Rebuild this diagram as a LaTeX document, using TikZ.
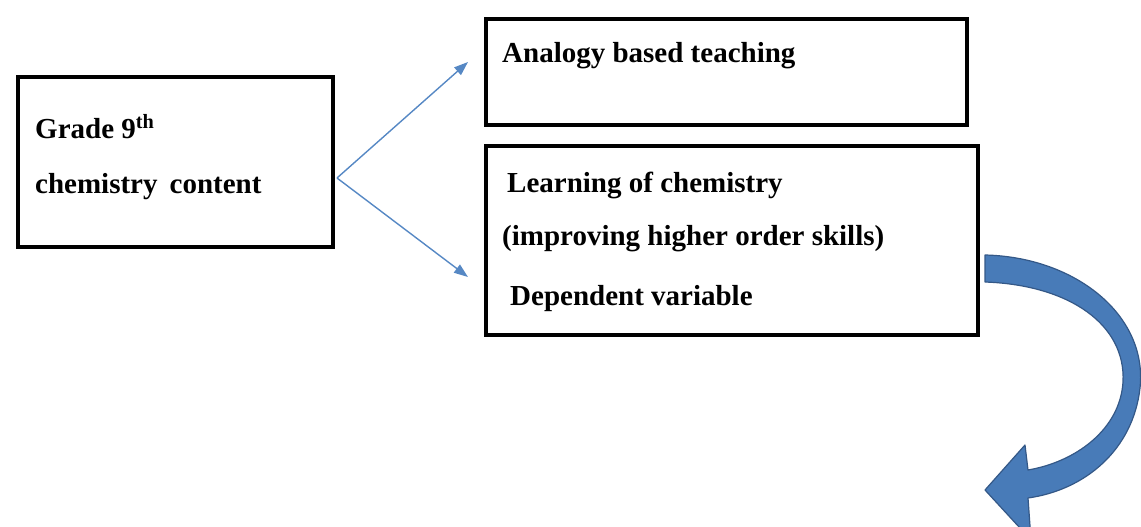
\documentclass[tikz,border=0pt]{standalone}
\usepackage{fontspec}
\setmainfont{Liberation Serif}
\usetikzlibrary{arrows.meta}
\definecolor{thinblue}{RGB}{86,136,196}
\definecolor{bigblue}{RGB}{72,123,184}
\definecolor{bigblueedge}{RGB}{52,88,135}
\tikzset{
  box/.style={draw=black, line width=3.6pt, rectangle, inner sep=0pt, anchor=north west},
  txt/.style={anchor=base west, inner sep=0pt, font=\fontsize{29}{35}\selectfont\bfseries},
  link/.style={draw=thinblue, line width=1.4pt, -{Triangle[length=14pt,width=10pt]}},
  bigarrow/.style={fill=bigblue, draw=bigblueedge, line width=1.2pt, line join=round}
}
\begin{document}
\begin{tikzpicture}[x=1pt,y=-1pt]
\useasboundingbox (0,0) rectangle (1141,527);
\clip (0,0) rectangle (1141,527);
\node[box, minimum width=315pt, minimum height=170pt] (b1) at (16,75) {};
\node[box, minimum width=481pt, minimum height=106pt] (b2) at (484,17) {};
\node[box, minimum width=492pt, minimum height=189pt] (b3) at (484,144) {};
\node[txt] (t1) at (35,138) {Grade 9\textsuperscript{th}};
\node[txt] (t2) at (35,193) {chemistry\, content};
\node[txt] (t3) at (502,63) {Analogy based teaching};
\node[txt] (t4) at (507,192) {Learning of chemistry};
\node[txt] (t5) at (502,245) {(improving higher order skills)};
\node[txt] (t6) at (510,305) {Dependent variable};
\coordinate (split) at (337,178);
\coordinate (up) at (468,62);
\coordinate (down) at (468,277);
\draw[link] (split) -- (up);
\draw[link] (split) -- (down);
\path[bigarrow] (985,255)
  .. controls (1075,257) and (1148,315) .. (1140,388)
  .. controls (1133,450) and (1085,490) .. (1028,498)
  -- (1031,540) -- (985,490) -- (1025,445) -- (1028,470)
  .. controls (1075,462) and (1120,430) .. (1123,382)
  .. controls (1126,325) and (1070,285) .. (985,282) -- cycle;
\end{tikzpicture}
\end{document}
